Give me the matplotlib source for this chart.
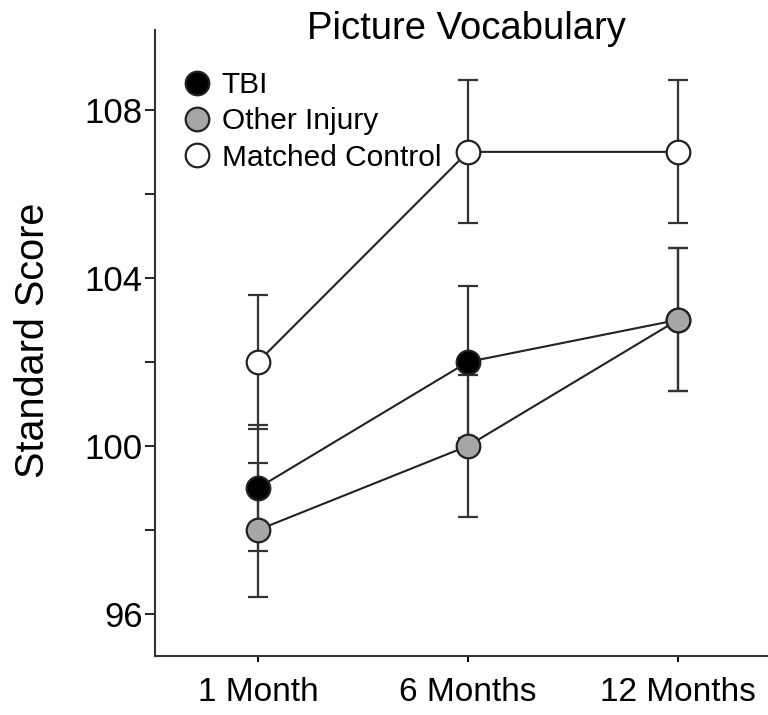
import numpy as np
import matplotlib.pyplot as plt
from matplotlib.ticker import MultipleLocator

plt.rcParams['font.family'] = ['Liberation Sans', 'DejaVu Sans']

# ---------------------- Data ----------------------
timepoints = ["1 Month", "6 Months", "12 Months"]
tbi_mean = [99.0, 102.0, 103.0]
tbi_err = [1.5, 1.8, 1.7]
other_mean = [98.0, 100.0, 103.0]
other_err = [1.6, 1.7, 1.7]
control_mean = [102.0, 107.0, 107.0]
control_err = [1.6, 1.7, 1.7]

groups = [
    ("TBI", tbi_mean, tbi_err, "black"),
    ("Other Injury", other_mean, other_err, "#a6a6a6"),
    ("Matched Control", control_mean, control_err, "white"),
]

# ---------------------- Plot ----------------------
fig = plt.figure(figsize=(7.68, 7.15), dpi=100)
ax = fig.add_axes([0.202, 0.0825, 0.798, 0.8755])

x = np.arange(len(timepoints))
handles = []
for name, mean, err, face in groups:
    ax.errorbar(x, mean, yerr=err, fmt="none", ecolor="#333333",
                elinewidth=1.6, capsize=7, capthick=1.6, zorder=2)
    ax.plot(x, mean, color="#222222", lw=1.5, zorder=3)
for i, (name, mean, err, face) in enumerate(groups):
    h, = ax.plot(x, mean, ls="none", marker="o", markersize=17,
                 markerfacecolor=face, markeredgecolor="#222222",
                 markeredgewidth=1.6, zorder=4 + i, label=name)
    handles.append(h)

ax.set_xlim(-0.49, 2.43)
ax.set_ylim(95, 109.9)
ax.set_xticks(x)
ax.set_xticklabels(timepoints)
ax.set_yticks([96, 100, 104, 108])
ax.yaxis.set_minor_locator(MultipleLocator(2))
ax.tick_params(axis="y", which="both", direction="out", length=7, width=1.2,
               labelsize=25, pad=2)
ax.tick_params(axis="x", direction="out", length=4, width=1.5, labelsize=24, pad=11)

for side in ["top", "right"]:
    ax.spines[side].set_visible(False)
for side in ["left", "bottom"]:
    ax.spines[side].set_linewidth(1.5)
    ax.spines[side].set_color("#333333")

fig.text(33 / 768, 1 - 340 / 715, "Standard Score", fontsize=28.5,
         rotation=90, ha="center", va="center")
fig.text(466 / 768, 1 - 29 / 715, "Picture Vocabulary", fontsize=27.5,
         ha="center", va="center")

ax.legend(handles=handles, loc="upper left", bbox_to_anchor=(0.007, 0.963),
          frameon=False, fontsize=21.5, handletextpad=0.18, labelspacing=0.28,
          borderaxespad=0.2, handlelength=1.3)

fig.savefig("out.png", dpi=100)
